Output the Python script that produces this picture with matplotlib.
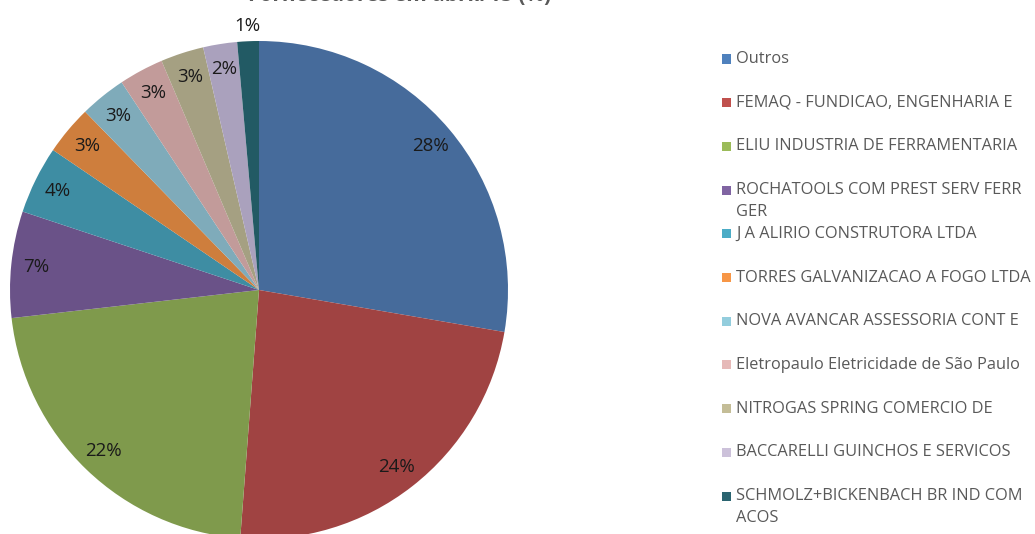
import numpy as np
import matplotlib.pyplot as plt
from matplotlib.patches import Rectangle

plt.rcParams['font.family'] = ['Open Sans', 'DejaVu Sans']

fornecedores = ['Outros', 'FEMAQ - FUNDICAO, ENGENHARIA E', 'ELIU INDUSTRIA DE FERRAMENTARIA',
                'ROCHATOOLS COM PREST SERV FERR\nGER', 'J A ALIRIO CONSTRUTORA LTDA',
                'TORRES GALVANIZACAO A FOGO LTDA', 'NOVA AVANCAR ASSESSORIA CONT E',
                'Eletropaulo Eletricidade de São Paulo', 'NITROGAS SPRING COMERCIO DE',
                'BACCARELLI GUINCHOS E SERVICOS', 'SCHMOLZ+BICKENBACH BR IND COM\nACOS']
valores = [27.7, 23.5, 22.0, 6.9, 4.4, 3.2, 3.0, 2.9, 2.8, 2.2, 1.4]

cores_pie = ['#466B9B', '#A04342', '#7F9A4C', '#6A5288', '#3E8DA3', '#CE7E3D',
             '#7FABBA', '#C29B9A', '#A5A082', '#AAA1BD', '#225A64']
cores_leg = ['#4F81BD', '#C0504D', '#9BBB59', '#8064A2', '#4BACC6', '#F79646',
             '#93CDDD', '#E6B9B8', '#C4BD97', '#CCC1DA', '#2A6470']

W, H = 1035, 534
fig = plt.figure(figsize=(W / 100, H / 100), dpi=100)

# pie: centre (259, 290) px from top, radius 249 px
r = 249
ax = fig.add_axes([(259 - r) / W, (H - 290 - r) / H, 2 * r / W, 2 * r / H])
wedges, _ = ax.pie(valores, colors=cores_pie, startangle=90, counterclock=False,
                   radius=1, wedgeprops=dict(linewidth=0))
ax.set_xlim(-1, 1)
ax.set_ylim(-1, 1)
ax.set_aspect('equal')
ax.axis('off')

for w, v in zip(wedges, valores):
    ang = np.deg2rad((w.theta1 + w.theta2) / 2)
    d = 1.06 if v < 2 else 0.9
    ax.text(d * np.cos(ang), d * np.sin(ang), f'{v:.0f}%', ha='center', va='center',
            fontsize=13.5, color='#1a1a1a', clip_on=False)

# title, cut at the top edge in the reference
fig.text(400 / W, 1 - 1 / H, 'Fornecedores em abril/15 (%)', ha='center', va='baseline',
         fontsize=15, fontweight='bold', color='#595959')

# legend
for i, (nome, c) in enumerate(zip(fornecedores, cores_leg)):
    y = 59 + 43.7 * i
    fig.patches.append(Rectangle(((722) / W, 1 - (y + 4.5) / H), 9 / W, 9 / H,
                                 transform=fig.transFigure, facecolor=c, edgecolor='none'))
    fig.text(736 / W, 1 - (y - 8) / H, nome, ha='left', va='top', fontsize=11.8,
             color='#595959', linespacing=1.5)

fig.savefig('out.png', dpi=100)
